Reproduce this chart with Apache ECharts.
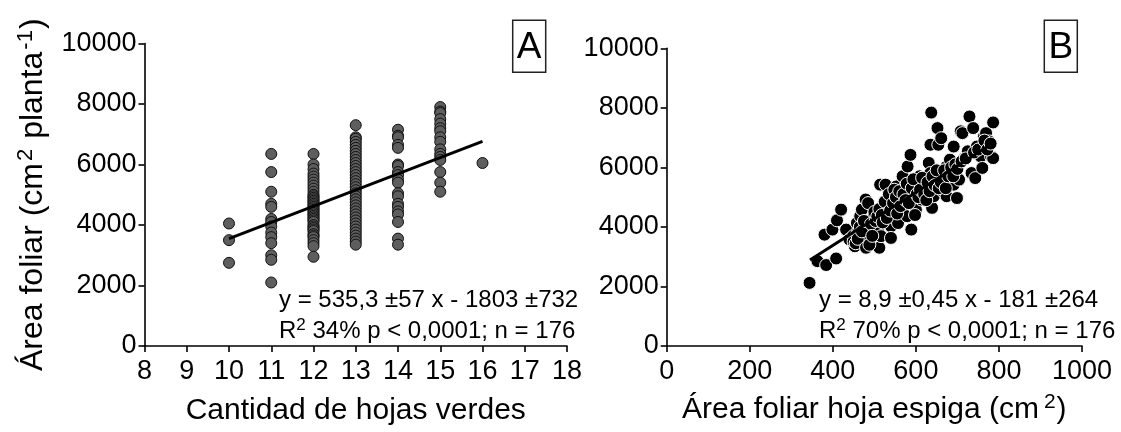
<!DOCTYPE html>
<html><head><meta charset="utf-8">
<script src="https://cdn.jsdelivr.net/npm/echarts@6/dist/echarts.min.js"></script>
<style>html,body{margin:0;padding:0;background:#fff}#c{width:1121px;height:432px}</style>
</head><body><div id="c"></div>
<script>
const FONT = '"Liberation Sans", Arial, sans-serif';

// Panel A: leaf area (cm2 plant-1) by number of green leaves
const leafCounts = [10, 11, 12, 13, 14, 15, 16];
const areaAt10 = [4050, 3500, 2750];
const areaAt11 = [6350, 5750, 5100, 4700, 4600, 4200, 4100, 3950, 3750, 3600, 3400, 3000, 2850, 2100];
const areaAt12 = [6350, 6000, 5850, 5700, 5600, 5500, 5400, 5300, 5200, 5100, 5000, 4950, 4900, 4850, 4800, 4750, 4700, 4650, 4600, 4550, 4500, 4450, 4400, 4350, 4300, 4250, 4200, 4150, 4100, 4000, 3950, 3900, 3850, 3800, 3700, 3650, 3600, 3500, 3400, 3300, 2950];
const areaAt13 = [7300, 6900, 6850, 6750, 6650, 6550, 6450, 6350, 6250, 6150, 6050, 5950, 5850, 5750, 5650, 5550, 5450, 5350, 5250, 5150, 5050, 4950, 4850, 4750, 4650, 4550, 4450, 4350, 4250, 4150, 4050, 3950, 3850, 3750, 3650, 3550, 3450, 3350];
const areaAt14 = [7150, 6950, 6900, 6650, 6550, 6000, 5950, 5750, 5650, 5500, 5400, 5050, 4950, 4700, 4600, 4450, 4350, 4100, 3550, 3350];
const areaAt15 = [7900, 7750, 7700, 7500, 7350, 7200, 7100, 6900, 6750, 6500, 6350, 6250, 6150, 5750, 5400, 5100];
const areaAt16 = [6050];
const fitA = [535.3, -1803];      // slope, intercept
const fitRangeA = [10, 16];

// Panel B: leaf area vs ear-leaf area (cm2)
const spikePoints = [
 [344,2120],[363,2850],[384,2720],[408,2940],[380,3740],[399,3910],[410,4220],[420,4580],[432,3910],[440,3580],
 [449,3690],[453,3350],[458,3740],[462,3910],[458,4130],[466,4360],[470,4580],[479,4920],[485,4800],[479,3630],
 [485,3580],[484,4020],[497,4300],[505,4470],[509,3910],[512,3300],[516,3690],[514,5420],[527,5420],[522,4750],
 [531,4920],[536,4470],[540,4020],[540,3630],[544,5160],[549,4690],[553,5360],[557,4130],[561,4920],[566,4580],
 [568,5700],[574,5360],[579,4360],[580,6030],[587,6420],[587,5030],[589,3910],[596,4690],[600,4580],[604,5480],
 [609,5700],[613,4920],[617,5360],[622,5590],[626,5310],[631,6150],[635,6760],[635,5810],[637,7840],[639,4640],
 [643,5030],[648,5360],[652,7320],[654,6760],[656,5590],[661,6980],[665,5200],[669,5590],[674,5030],[674,6030],
 [682,6260],[687,5870],[691,6700],[691,5420],[699,4970],[704,5590],[708,7210],[712,7150],[717,6310],[725,6540],
 [729,7710],[734,5810],[738,7320],[743,5640],[747,6700],[756,6370],[760,5980],[764,7040],[769,7150],[777,6870],
 [781,6370],[786,7510],[786,6310],
 [450,3500],[455,3450],[460,3600],[465,4000],[470,3850],[475,4200],[480,3300],[488,3400],[492,4100],[495,3700],
 [500,4500],[503,4200],[507,4350],[512,4600],[518,4400],[520,4150],[525,4850],[530,4300],[535,5100],[538,4550],
 [545,4800],[548,5250],[552,5000],[555,4450],[560,5200],[563,4700],[570,5100],[575,4900],[578,5450],[583,4800],
 [590,5300],[594,5600],[598,4400],[602,5100],[606,5000],[610,5250],[615,5650],[620,5100],[625,4900],[628,5500],
 [633,5200],[640,5700],[645,5400],[650,5900],[655,5300],[660,5500],[668,5900],[672,5300],[678,5700],[685,6000],
 [690,5700],[695,6100],[700,5950],[710,6200],[720,6300],[740,6500],[750,6600],[765,6900],[772,6600],[780,6800]
];
const fitB = [8.9, -181];
const fitRangeB = [345, 790];

const eqA = ['y = 535,3 \u00b157 x - 1803 \u00b1732', '34% p < 0,0001; n = 176'];
const eqB = ['y = 8,9 \u00b10,45 x - 181 \u00b1264', '70% p < 0,0001; n = 176'];

const colsA = [areaAt10, areaAt11, areaAt12, areaAt13, areaAt14, areaAt15, areaAt16];
const dataA = [];
colsA.forEach((col, i) => col.forEach(v => dataA.push([leafCounts[i], v])));
const lineA = fitRangeA.map(x => [x, fitA[0] * x + fitA[1]]);
const lineB = fitRangeB.map(x => [x, fitB[0] * x + fitB[1]]);

const plain = v => String(v);
const axisCommon = {
  axisLine: {show: true, onZero: false, lineStyle: {color: '#000', width: 1.6}},
  axisTick: {show: true, length: 6, lineStyle: {color: '#000', width: 1.6}},
  splitLine: {show: false}
};
const xLab = {color: '#000', fontSize: 27, fontFamily: FONT, margin: 12, formatter: plain};
const yLab = {color: '#000', fontSize: 27, fontFamily: FONT, margin: 8, formatter: plain};

const chart = echarts.init(document.getElementById('c'), null, {renderer: 'canvas'});
const richX = {
  n: {fontSize: 30, fontFamily: FONT, color: '#000', lineHeight: 36},
  s: {fontSize: 21, fontFamily: FONT, color: '#000', lineHeight: 21, verticalAlign: 'top', padding: [0, 1, 0, 5]}
};
const richY = {
  n: {fontSize: 32, fontFamily: FONT, color: '#000', lineHeight: 38},
  s: {fontSize: 22, fontFamily: FONT, color: '#000', lineHeight: 22, verticalAlign: 'top', padding: [0, 1, 0, 2]}
};
const grich = {
  n: {fontSize: 24, fontFamily: FONT, fill: '#000', lineHeight: 28},
  s: {fontSize: 17, fontFamily: FONT, fill: '#000', lineHeight: 17, verticalAlign: 'top'}
};

function labelBox(x, y, letter) {
  return {
    type: 'group', x: x, y: y,
    children: [
      {type: 'rect', shape: {x: 0, y: 0, width: 33, height: 52}, style: {fill: '#fff', stroke: '#222', lineWidth: 1.5}},
      {type: 'text', x: 16.5, y: 27, style: {text: letter, fontSize: 37, fontFamily: FONT, fill: '#000', align: 'center', verticalAlign: 'middle'}}
    ]
  };
}
function eqText(x, lines) {
  return [
    {type: 'text', x: x, y: 300, style: {text: '{n|' + lines[0] + '}', rich: grich, align: 'left', verticalAlign: 'middle'}},
    {type: 'text', x: x, y: 331, style: {text: '{n|R}{s|2}{n| ' + lines[1] + '}', rich: grich, align: 'left', verticalAlign: 'middle'}}
  ];
}

chart.setOption({
  animation: false,
  backgroundColor: '#fff',
  grid: [
    {left: 144.5, right: 554, top: 43.5, bottom: 86},
    {left: 666.7, right: 39, top: 48.3, bottom: 86}
  ],
  xAxis: [
    Object.assign({}, axisCommon, {gridIndex: 0, type: 'value', min: 8, max: 18, interval: 1, axisLabel: xLab,
      name: 'Cantidad de hojas verdes', nameLocation: 'middle', nameGap: 50,
      nameTextStyle: {fontSize: 30, fontFamily: FONT, color: '#000'}}),
    Object.assign({}, axisCommon, {gridIndex: 1, type: 'value', min: 0, max: 1000, interval: 200, axisLabel: xLab,
      name: '{n|\u00c1rea foliar hoja espiga (cm}{s|2}{n|)}', nameLocation: 'middle', nameGap: 46,
      nameTextStyle: {rich: richX}})
  ],
  yAxis: [
    Object.assign({}, axisCommon, {gridIndex: 0, type: 'value', min: 0, max: 10000, interval: 2000, axisLabel: yLab,
      name: '{n|\u00c1rea foliar (cm}{s|2}{n| planta}{s|-1}{n|)}', nameLocation: 'middle', nameRotate: 90, nameGap: 92,
      nameTextStyle: {rich: richY}}),
    Object.assign({}, axisCommon, {gridIndex: 1, type: 'value', min: 0, max: 10000, interval: 2000, axisLabel: yLab})
  ],
  series: [
    {type: 'scatter', xAxisIndex: 0, yAxisIndex: 0, data: dataA, symbolSize: 11,
     itemStyle: {color: '#5e5e5e', borderColor: '#111', borderWidth: 1, opacity: 1}, z: 2},
    {type: 'line', xAxisIndex: 0, yAxisIndex: 0, data: lineA, symbol: 'none',
     lineStyle: {color: '#000', width: 3}, z: 5},
    {type: 'scatter', xAxisIndex: 1, yAxisIndex: 1, data: spikePoints, symbolSize: 13,
     itemStyle: {color: '#000', borderColor: '#fff', borderWidth: 1, opacity: 1}, z: 2},
    {type: 'line', xAxisIndex: 1, yAxisIndex: 1, data: lineB, symbol: 'none',
     lineStyle: {color: '#000', width: 3}, z: 5}
  ],
  graphic: [labelBox(512.7, 20.3, 'A'), labelBox(1044.3, 20.3, 'B')]
    .concat(eqText(279, eqA)).concat(eqText(819, eqB))
});
</script></body></html>
